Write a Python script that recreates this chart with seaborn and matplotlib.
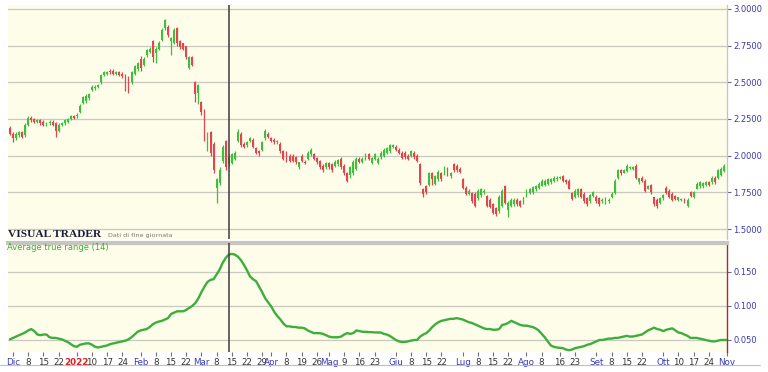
import numpy as np
import pandas as pd
import matplotlib
matplotlib.use("Agg")
import matplotlib.pyplot as plt
from matplotlib.lines import Line2D
import seaborn as sns

# ---------------- data ----------------
holidays = ["2021-12-24", "2021-12-31", "2022-04-15", "2022-04-18"]
start_date = "2021-11-30"
end_date = "2022-11-01"
cursor_date = "2022-03-14"

opens = [
    2.19, 2.15, 2.12, 2.14, 2.16, 2.14, 2.21, 2.26, 2.25, 2.23,
    2.24, 2.23, 2.21, 2.22, 2.23, 2.22, 2.17, 2.21, 2.22, 2.23,
    2.25, 2.27, 2.27, 2.30, 2.36, 2.37, 2.39, 2.45, 2.46, 2.47,
    2.50, 2.55, 2.56, 2.58, 2.58, 2.56, 2.57, 2.56, 2.55, 2.53,
    2.50, 2.56, 2.59, 2.66, 2.62, 2.685, 2.71, 2.78, 2.70, 2.73,
    2.79, 2.87, 2.88, 2.78, 2.77, 2.87, 2.78, 2.765, 2.745, 2.60,
    2.67, 2.50, 2.425, 2.365, 2.31, 2.08, 2.16, 2.08, 1.78, 1.815,
    1.965, 2.10, 1.94, 1.95, 1.98, 2.10, 2.15, 2.08, 2.07, 2.10,
    2.11, 2.05, 2.03, 2.04, 2.12, 2.15, 2.12, 2.11, 2.09, 2.08,
    2.035, 2.02, 2.00, 2.00, 1.99, 1.92, 2.00, 1.96, 1.98, 2.01,
    2.01, 1.985, 1.965, 1.93, 1.92, 1.95, 1.945, 1.93, 1.94, 1.98,
    1.93, 1.88, 1.865, 1.88, 1.91, 1.98, 1.96, 1.98, 2.01, 1.95,
    1.98, 1.95, 1.99, 2.00, 2.02, 2.03, 2.06, 2.06, 2.04, 2.02,
    2.02, 2.00, 2.00, 2.02, 2.00, 1.945, 1.77, 1.79, 1.80, 1.885,
    1.81, 1.84, 1.88, 1.885, 1.91, 1.86, 1.945, 1.93, 1.91, 1.84,
    1.78, 1.74, 1.745, 1.74, 1.71, 1.73, 1.75, 1.725, 1.70, 1.67,
    1.64, 1.62, 1.66, 1.795, 1.63, 1.66, 1.67, 1.70, 1.69, 1.68,
    1.73, 1.745, 1.75, 1.77, 1.78, 1.795, 1.80, 1.81, 1.82, 1.83,
    1.84, 1.85, 1.86, 1.835, 1.83, 1.745, 1.72, 1.73, 1.775, 1.74,
    1.71, 1.69, 1.725, 1.72, 1.71, 1.69, 1.68, 1.69, 1.72, 1.745,
    1.85, 1.90, 1.885, 1.895, 1.915, 1.91, 1.93, 1.82, 1.85, 1.83,
    1.775, 1.80, 1.715, 1.70, 1.675, 1.71, 1.78, 1.76, 1.74, 1.725,
    1.70, 1.70, 1.70, 1.66, 1.75, 1.72, 1.775, 1.79, 1.79, 1.80,
    1.82, 1.82, 1.85, 1.85, 1.87, 1.895,
]
closes = [
    2.15, 2.12, 2.15, 2.16, 2.13, 2.21, 2.26, 2.24, 2.23, 2.24,
    2.22, 2.21, 2.22, 2.23, 2.21, 2.17, 2.21, 2.22, 2.24, 2.25,
    2.27, 2.26, 2.28, 2.34, 2.40, 2.41, 2.42, 2.47, 2.47, 2.48,
    2.55, 2.57, 2.57, 2.57, 2.56, 2.57, 2.55, 2.54, 2.47, 2.46,
    2.57, 2.61, 2.63, 2.60, 2.66, 2.72, 2.73, 2.67, 2.73, 2.77,
    2.86, 2.925, 2.82, 2.80, 2.86, 2.765, 2.74, 2.73, 2.67, 2.67,
    2.62, 2.42, 2.48, 2.30, 2.115, 2.15, 2.02, 1.90, 1.84, 1.90,
    2.06, 1.92, 2.00, 2.01, 2.02, 2.16, 2.07, 2.06, 2.09, 2.12,
    2.06, 2.02, 2.02, 2.09, 2.17, 2.13, 2.10, 2.09, 2.10, 2.035,
    1.98, 1.97, 1.965, 1.965, 1.955, 1.955, 1.965, 1.95, 2.02, 2.04,
    1.98, 1.955, 1.92, 1.90, 1.95, 1.92, 1.90, 1.96, 1.97, 1.92,
    1.88, 1.83, 1.92, 1.96, 1.98, 1.96, 1.98, 2.01, 1.98, 1.985,
    2.01, 1.98, 2.02, 2.04, 2.05, 2.07, 2.07, 2.04, 2.02, 1.985,
    1.99, 1.98, 2.03, 1.99, 1.965, 1.815, 1.74, 1.75, 1.88, 1.84,
    1.86, 1.89, 1.84, 1.92, 1.87, 1.88, 1.90, 1.90, 1.89, 1.78,
    1.74, 1.76, 1.69, 1.66, 1.76, 1.77, 1.76, 1.66, 1.65, 1.61,
    1.605, 1.72, 1.76, 1.68, 1.68, 1.70, 1.70, 1.67, 1.66, 1.715,
    1.76, 1.77, 1.785, 1.79, 1.81, 1.83, 1.83, 1.84, 1.84, 1.85,
    1.85, 1.855, 1.83, 1.82, 1.775, 1.705, 1.76, 1.775, 1.72, 1.69,
    1.67, 1.73, 1.75, 1.69, 1.67, 1.70, 1.71, 1.70, 1.74, 1.83,
    1.90, 1.88, 1.90, 1.93, 1.92, 1.92, 1.85, 1.845, 1.83, 1.76,
    1.79, 1.75, 1.67, 1.66, 1.71, 1.735, 1.745, 1.715, 1.70, 1.705,
    1.715, 1.705, 1.685, 1.70, 1.725, 1.75, 1.81, 1.82, 1.815, 1.82,
    1.80, 1.85, 1.82, 1.90, 1.91, 1.93,
]
highs = [
    2.20, 2.16, 2.16, 2.17, 2.17, 2.22, 2.27, 2.27, 2.26, 2.25,
    2.25, 2.24, 2.23, 2.24, 2.24, 2.23, 2.22, 2.23, 2.25, 2.26,
    2.28, 2.28, 2.29, 2.35, 2.41, 2.42, 2.43, 2.48, 2.48, 2.49,
    2.56, 2.58, 2.58, 2.59, 2.59, 2.58, 2.58, 2.57, 2.56, 2.54,
    2.58, 2.62, 2.64, 2.68, 2.67, 2.73, 2.74, 2.79, 2.74, 2.78,
    2.87, 2.93, 2.89, 2.81, 2.87, 2.88, 2.79, 2.77, 2.75, 2.68,
    2.68, 2.51, 2.49, 2.37, 2.32, 2.16, 2.17, 2.09, 1.85, 1.92,
    2.07, 2.11, 2.01, 2.02, 2.03, 2.18, 2.16, 2.09, 2.10, 2.13,
    2.12, 2.06, 2.04, 2.10, 2.18, 2.16, 2.13, 2.12, 2.11, 2.09,
    2.04, 2.03, 2.01, 2.01, 2.00, 1.96, 2.01, 1.97, 2.03, 2.05,
    2.02, 1.99, 1.97, 1.94, 1.96, 1.96, 1.95, 1.97, 1.98, 1.99,
    1.94, 1.89, 1.93, 1.97, 1.99, 1.99, 1.99, 2.02, 2.02, 1.99,
    2.02, 1.99, 2.03, 2.05, 2.06, 2.08, 2.08, 2.07, 2.05, 2.03,
    2.03, 2.01, 2.04, 2.03, 2.01, 1.95, 1.78, 1.80, 1.89, 1.89,
    1.87, 1.90, 1.89, 1.93, 1.92, 1.89, 1.95, 1.94, 1.92, 1.85,
    1.79, 1.77, 1.75, 1.75, 1.77, 1.78, 1.77, 1.73, 1.71, 1.68,
    1.65, 1.73, 1.77, 1.80, 1.69, 1.71, 1.71, 1.71, 1.70, 1.72,
    1.77, 1.78, 1.79, 1.80, 1.82, 1.84, 1.84, 1.85, 1.85, 1.86,
    1.86, 1.86, 1.87, 1.84, 1.84, 1.75, 1.77, 1.78, 1.78, 1.75,
    1.72, 1.74, 1.76, 1.73, 1.72, 1.71, 1.72, 1.71, 1.75, 1.84,
    1.91, 1.91, 1.91, 1.94, 1.93, 1.93, 1.94, 1.85, 1.86, 1.84,
    1.80, 1.81, 1.72, 1.71, 1.72, 1.74, 1.79, 1.77, 1.75, 1.73,
    1.72, 1.71, 1.71, 1.71, 1.76, 1.76, 1.82, 1.83, 1.82, 1.83,
    1.83, 1.86, 1.86, 1.91, 1.92, 1.94,
]
lows = [
    2.14, 2.09, 2.11, 2.13, 2.12, 2.13, 2.20, 2.23, 2.22, 2.22,
    2.21, 2.20, 2.20, 2.21, 2.20, 2.125, 2.16, 2.20, 2.21, 2.22,
    2.24, 2.25, 2.26, 2.29, 2.35, 2.36, 2.38, 2.44, 2.45, 2.46,
    2.49, 2.54, 2.55, 2.56, 2.55, 2.55, 2.54, 2.53, 2.44, 2.43,
    2.49, 2.55, 2.58, 2.58, 2.61, 2.67, 2.70, 2.64, 2.63, 2.72,
    2.78, 2.86, 2.81, 2.685, 2.76, 2.75, 2.73, 2.72, 2.66, 2.59,
    2.61, 2.365, 2.35, 2.28, 2.10, 2.03, 2.00, 1.88, 1.68, 1.80,
    1.95, 1.90, 1.93, 1.94, 1.97, 2.09, 2.06, 2.05, 2.06, 2.09,
    2.05, 2.01, 2.00, 2.03, 2.11, 2.12, 2.09, 2.08, 2.08, 2.02,
    1.97, 1.96, 1.955, 1.955, 1.945, 1.91, 1.955, 1.94, 1.97, 2.00,
    1.97, 1.94, 1.91, 1.89, 1.91, 1.91, 1.89, 1.92, 1.93, 1.91,
    1.87, 1.82, 1.85, 1.87, 1.90, 1.95, 1.95, 1.97, 1.97, 1.94,
    1.97, 1.94, 1.98, 1.99, 2.01, 2.02, 2.05, 2.03, 2.01, 1.975,
    1.98, 1.97, 1.99, 1.98, 1.955, 1.80, 1.72, 1.74, 1.79, 1.80,
    1.80, 1.83, 1.83, 1.87, 1.86, 1.85, 1.89, 1.89, 1.88, 1.77,
    1.73, 1.73, 1.68, 1.65, 1.70, 1.72, 1.74, 1.65, 1.64, 1.60,
    1.59, 1.61, 1.65, 1.67, 1.58, 1.65, 1.66, 1.66, 1.65, 1.67,
    1.72, 1.74, 1.74, 1.76, 1.77, 1.79, 1.79, 1.80, 1.81, 1.82,
    1.83, 1.84, 1.82, 1.81, 1.77, 1.70, 1.71, 1.72, 1.71, 1.68,
    1.66, 1.68, 1.72, 1.68, 1.66, 1.68, 1.67, 1.68, 1.71, 1.74,
    1.84, 1.87, 1.88, 1.89, 1.91, 1.90, 1.84, 1.81, 1.82, 1.75,
    1.77, 1.74, 1.66, 1.64, 1.67, 1.70, 1.74, 1.71, 1.69, 1.70,
    1.69, 1.69, 1.68, 1.65, 1.72, 1.71, 1.77, 1.78, 1.78, 1.79,
    1.79, 1.81, 1.81, 1.84, 1.86, 1.89,
]
atr = [
    0.051, 0.053, 0.055, 0.057, 0.059, 0.061, 0.064, 0.066, 0.063, 0.058,
    0.057, 0.058, 0.058, 0.054, 0.053, 0.053, 0.052, 0.051, 0.049, 0.047,
    0.044, 0.041, 0.040, 0.043, 0.044, 0.045, 0.045, 0.043, 0.040, 0.039,
    0.040, 0.041, 0.042, 0.044, 0.045, 0.046, 0.047, 0.048, 0.049, 0.051,
    0.054, 0.058, 0.062, 0.064, 0.065, 0.066, 0.069, 0.073, 0.0755, 0.077,
    0.078, 0.080, 0.082, 0.088, 0.090, 0.092, 0.092, 0.092, 0.094, 0.097,
    0.100, 0.104, 0.111, 0.120, 0.128, 0.135, 0.138, 0.139, 0.146, 0.153,
    0.163, 0.170, 0.175, 0.176, 0.175, 0.172, 0.167, 0.160, 0.152, 0.143,
    0.139, 0.136, 0.128, 0.120, 0.111, 0.105, 0.099, 0.091, 0.085, 0.080,
    0.074, 0.070, 0.070, 0.069, 0.069, 0.068, 0.068, 0.067, 0.064, 0.062,
    0.060, 0.060, 0.060, 0.059, 0.057, 0.055, 0.054, 0.054, 0.054, 0.055,
    0.058, 0.060, 0.059, 0.060, 0.064, 0.063, 0.062, 0.062, 0.0615, 0.0615,
    0.061, 0.061, 0.061, 0.059, 0.058, 0.056, 0.053, 0.050, 0.048, 0.047,
    0.047, 0.048, 0.049, 0.050, 0.050, 0.055, 0.058, 0.060, 0.064, 0.069,
    0.073, 0.076, 0.078, 0.079, 0.080, 0.081, 0.081, 0.082, 0.081, 0.080,
    0.078, 0.076, 0.075, 0.073, 0.071, 0.069, 0.067, 0.066, 0.066, 0.065,
    0.065, 0.066, 0.072, 0.073, 0.075, 0.078, 0.076, 0.074, 0.072, 0.071,
    0.071, 0.070, 0.069, 0.067, 0.064, 0.059, 0.054, 0.048, 0.042, 0.040,
    0.039, 0.0385, 0.038, 0.036, 0.035, 0.036, 0.038, 0.039, 0.040, 0.041,
    0.043, 0.044, 0.046, 0.048, 0.050, 0.050, 0.051, 0.052, 0.052, 0.053,
    0.053, 0.054, 0.055, 0.056, 0.055, 0.055, 0.056, 0.057, 0.058, 0.061,
    0.064, 0.066, 0.068, 0.066, 0.065, 0.063, 0.065, 0.066, 0.067, 0.064,
    0.061, 0.060, 0.058, 0.056, 0.053, 0.053, 0.053, 0.052, 0.051, 0.050,
    0.049, 0.048, 0.048, 0.049, 0.050, 0.050, 0.050,
]

tick_dates = [
    "2021-12-01", "2021-12-08", "2021-12-15", "2021-12-22", "2022-01-03",
    "2022-01-10", "2022-01-17", "2022-01-24", "2022-02-01", "2022-02-08",
    "2022-02-15", "2022-02-22", "2022-03-01", "2022-03-08", "2022-03-15",
    "2022-03-22", "2022-03-29", "2022-04-01", "2022-04-08", "2022-04-19",
    "2022-04-26", "2022-05-02", "2022-05-09", "2022-05-16", "2022-05-23",
    "2022-06-01", "2022-06-08", "2022-06-15", "2022-06-22", "2022-07-01",
    "2022-07-08", "2022-07-15", "2022-07-22", "2022-08-01", "2022-08-08",
    "2022-08-16", "2022-08-23", "2022-09-01", "2022-09-08", "2022-09-15",
    "2022-09-22", "2022-10-03", "2022-10-10", "2022-10-17", "2022-10-24",
    "2022-11-01",
]
tick_labels = [
    "Dic", "8", "15", "22", "2022", "10", "17", "24", "Feb", "8", "15", "22",
    "Mar", "8", "15", "22", "29", "Apr", "8", "19", "26", "Mag", "9", "16",
    "23", "Giu", "8", "15", "22", "Lug", "8", "15", "22", "Ago", "8", "16",
    "23", "Set", "8", "15", "22", "Ott", "10", "17", "24", "Nov",
]
price_ticks = [1.5, 1.75, 2.0, 2.25, 2.5, 2.75, 3.0]
atr_ticks = [0.05, 0.10, 0.15]

# ---------------- style ----------------
sns.set_style("white")
plt.rcParams["font.family"] = ["DejaVu Sans"]

BG = "#FDFDEA"
GRID = "#C9C9C0"
GREEN = "#3DBE3D"
RED = "#E0464C"
BLUE = "#3A3AB0"

cal = pd.bdate_range(start_date, end_date)
cal = cal[~cal.isin(pd.to_datetime(holidays))]
xpos = np.arange(len(cal))
date_index = {d: i for i, d in enumerate(cal)}

W, H = 768, 372
fig = plt.figure(figsize=(W / 100, H / 100), dpi=100, facecolor="white")
ax1 = fig.add_axes([8 / W, 1 - 239 / H, 719 / W, 234 / H])
ax2 = fig.add_axes([8 / W, 1 - 352 / H, 719 / W, 109 / H])

# ---------------- candles ----------------
o = np.array(opens)
c = np.array(closes)
hi = np.array(highs)
lo = np.array(lows)
xc = xpos[: len(c)]
cols = np.where(c >= o, GREEN, RED)
ax1.vlines(xc, lo, hi, colors=cols, linewidth=0.9, zorder=3)
body = np.maximum(np.abs(c - o), 0.007)
ax1.bar(xc, body, bottom=np.minimum(o, c), width=0.62, color=cols,
        linewidth=0, zorder=4)

# ---------------- ATR ----------------
df = pd.DataFrame({"x": xpos[: len(atr)], "atr": atr})
sns.lineplot(data=df, x="x", y="atr", ax=ax2, color="#3DAE3D", linewidth=1.7,
             zorder=3)
ax2.set_xlabel("")
ax2.set_ylabel("")

# ---------------- axes styling ----------------
cursor_x = date_index[pd.Timestamp(cursor_date)]
for ax in (ax1, ax2):
    ax.set_facecolor(BG)
    ax.set_xlim(-0.66, len(cal) - 1)
    ax.yaxis.tick_right()
    ax.spines["left"].set_visible(False)
    ax.spines["top"].set_visible(False)
    ax.spines["bottom"].set_visible(False)
    ax.grid(axis="y", color=GRID, linewidth=0.9)
    ax.grid(axis="x", visible=False)
    ax.set_axisbelow(True)
    ax.axvline(cursor_x, color="#3c3c3c", linewidth=1.1, zorder=5)
    ax.tick_params(axis="y", direction="out", length=3, width=0.8, pad=1.5,
                   labelsize=6, labelcolor=BLUE, color="#6a6a8a",
                   left=False, right=True)

ax1.set_ylim(1.432, 3.027)
ax1.set_yticks(price_ticks)
ax1.set_yticklabels([f"{v:.4f}" for v in price_ticks])
ax1.tick_params(axis="x", bottom=False, labelbottom=False)
ax1.spines["right"].set_color("#C4C4C4")
ax1.spines["right"].set_linewidth(0.9)

ax2.set_ylim(0.0324, 0.192)
ax2.set_yticks(atr_ticks)
ax2.set_yticklabels([f"{v:.3f}" for v in atr_ticks])
ax2.spines["right"].set_color("#B02A2A")
ax2.spines["right"].set_linewidth(1.0)
ax2.spines["top"].set_visible(True)
ax2.spines["top"].set_color("#C6C6BE")
ax2.spines["top"].set_linewidth(3.0)

tpos = [date_index[pd.Timestamp(d)] for d in tick_dates]
ax2.set_xticks(tpos)
ax2.set_xticklabels(tick_labels)
ax2.tick_params(axis="x", bottom=True, direction="out", length=3, width=0.8,
                pad=1.5, labelsize=6.3, color="#707070")
for lbl in ax2.get_xticklabels():
    t = lbl.get_text()
    if t == "2022":
        lbl.set_color("#E01E1E")
        lbl.set_fontweight("bold")
    elif t.isdigit():
        lbl.set_color("#333333")
    else:
        lbl.set_color(BLUE)

# ---------------- texts ----------------
fig.text(8 / W, 1 - 237 / H, "VISUAL TRADER", family=["Liberation Serif"],
         fontweight="bold", fontsize=8.2, color="#1C1C40", va="baseline")
fig.text(108 / W, 1 - 237 / H, "Dati di fine giornata", fontsize=4.6,
         color="#7A7A7A", va="baseline")
fig.text(7 / W, 1 - 248 / H, "Average true range (14)", fontsize=6,
         color="#3DAE3D", va="center")

fig.add_artist(Line2D([0, 0.99], [1 - 365 / H, 1 - 365 / H], color="#C0C0C0",
                      linewidth=0.8))

fig.savefig("out.png", dpi=100, facecolor="white")
